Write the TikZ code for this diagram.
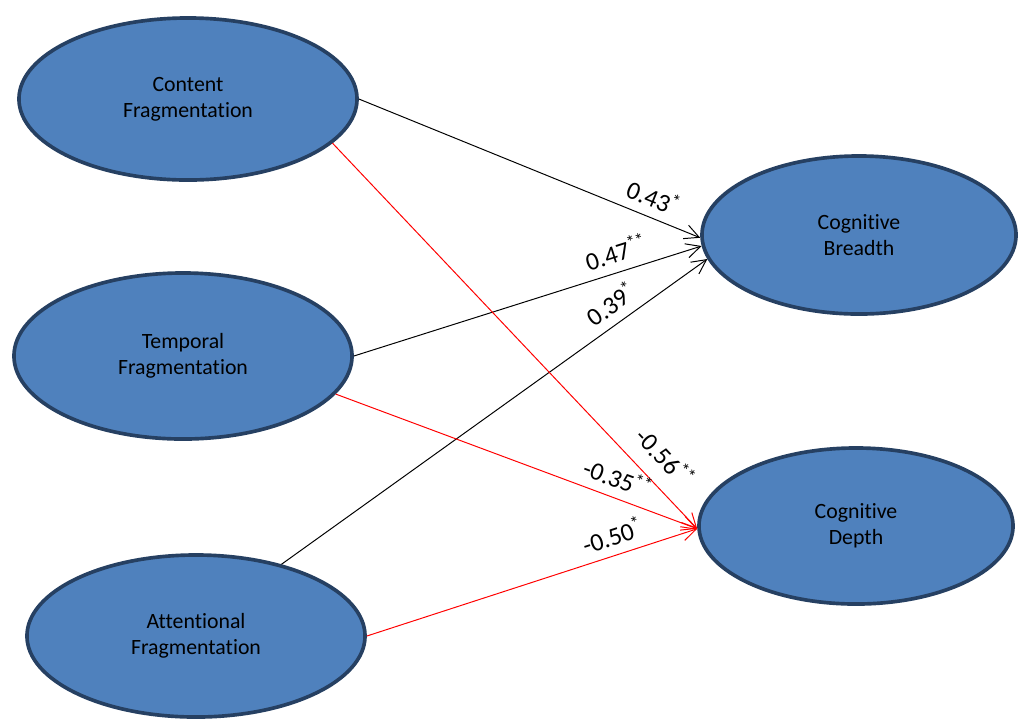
\documentclass[tikz,border=0pt]{standalone}
\usepackage{fontspec}
\setmainfont{Carlito}[Ligatures={NoCommon,NoRequired,NoContextual}]
\usetikzlibrary{shapes.geometric, arrows.meta, positioning}
\definecolor{FactorBlue}{RGB}{79, 129, 189}
\definecolor{FactorBorder}{RGB}{38, 64, 98}
\definecolor{PathRed}{RGB}{255, 0, 0}
\newcommand{\sig}[1]{\kern-0.5pt\raisebox{0.7ex}{\fontsize{13}{13}\selectfont #1}}

\begin{document}
\begin{tikzpicture}[
    x=0.025cm,
    y=-0.025cm,
    causebox/.style={
        ellipse,
        draw=FactorBorder,
        line width=2.6pt,
        fill=FactorBlue,
        minimum width=8.45cm,
        minimum height=4.05cm,
        inner sep=0pt,
        align=center,
        font=\fontsize{15.5}{18.5}\selectfont
    },
    effectbox/.style={
        ellipse,
        draw=FactorBorder,
        line width=2.6pt,
        fill=FactorBlue,
        minimum width=7.85cm,
        minimum height=3.95cm,
        inner sep=0pt,
        align=center,
        font=\fontsize{15.5}{18.5}\selectfont
    },
    posPath/.style={
        draw=black,
        line width=0.7pt,
        -{Straight Barb[length=3.6mm,width=3.6mm]}
    },
    negPath/.style={
        draw=PathRed,
        line width=0.7pt,
        -{Straight Barb[length=3.6mm,width=3.6mm]}
    },
    coefLabel/.style={
        sloped,
        above=5.5pt,
        inner sep=1pt,
        font=\fontsize{18}{20}\selectfont
    }
]
\useasboundingbox (0,0) rectangle (1023,719);
% -------------------------------------------------------------
% FRAGMENTATION FACTORS
% -------------------------------------------------------------
\node[causebox] (contentNode) at (188,99)
{
    Content\\
    Fragmentation
};
\node[causebox, minimum height=4.15cm] (temporalNode) at (183,356)
{
    Temporal\\
    Fragmentation
};
\node[causebox] (attentionNode) at (196,636)
{
    Attentional\\
    Fragmentation
};
% -------------------------------------------------------------
% COGNITIVE OUTCOMES
% -------------------------------------------------------------
\node[effectbox] (breadthNode) at (859,235)
{
    Cognitive\\
    Breadth
};
\node[effectbox, minimum height=3.9cm] (depthNode) at (856,526)
{
    Cognitive\\
    Depth
};
% -------------------------------------------------------------
% PATHS TO BREADTH
% -------------------------------------------------------------
\draw[posPath]
(contentNode.east)
--
node[coefLabel, pos=0.84] {0.43\sig{*}}
(breadthNode.181);
\draw[posPath]
(temporalNode.east)
--
node[coefLabel, pos=0.77] {0.47\sig{**}}
(breadthNode.184);
\draw[posPath]
(attentionNode.40)
--
node[coefLabel, pos=0.8] {0.39\sig{*}}
(breadthNode.189);
% -------------------------------------------------------------
% PATHS TO DEPTH
% -------------------------------------------------------------
\draw[negPath]
(contentNode.-17)
--
node[coefLabel, pos=0.86, above=10pt] {-0.56\sig{**}}
(depthNode.181);
\draw[negPath]
(temporalNode.-14)
--
node[coefLabel, pos=0.76] {-0.35\sig{**}}
(depthNode.181);
\draw[negPath]
(attentionNode.east)
--
node[coefLabel, pos=0.76] {-0.50\sig{*}}
(depthNode.181);
\end{tikzpicture}
\end{document}
